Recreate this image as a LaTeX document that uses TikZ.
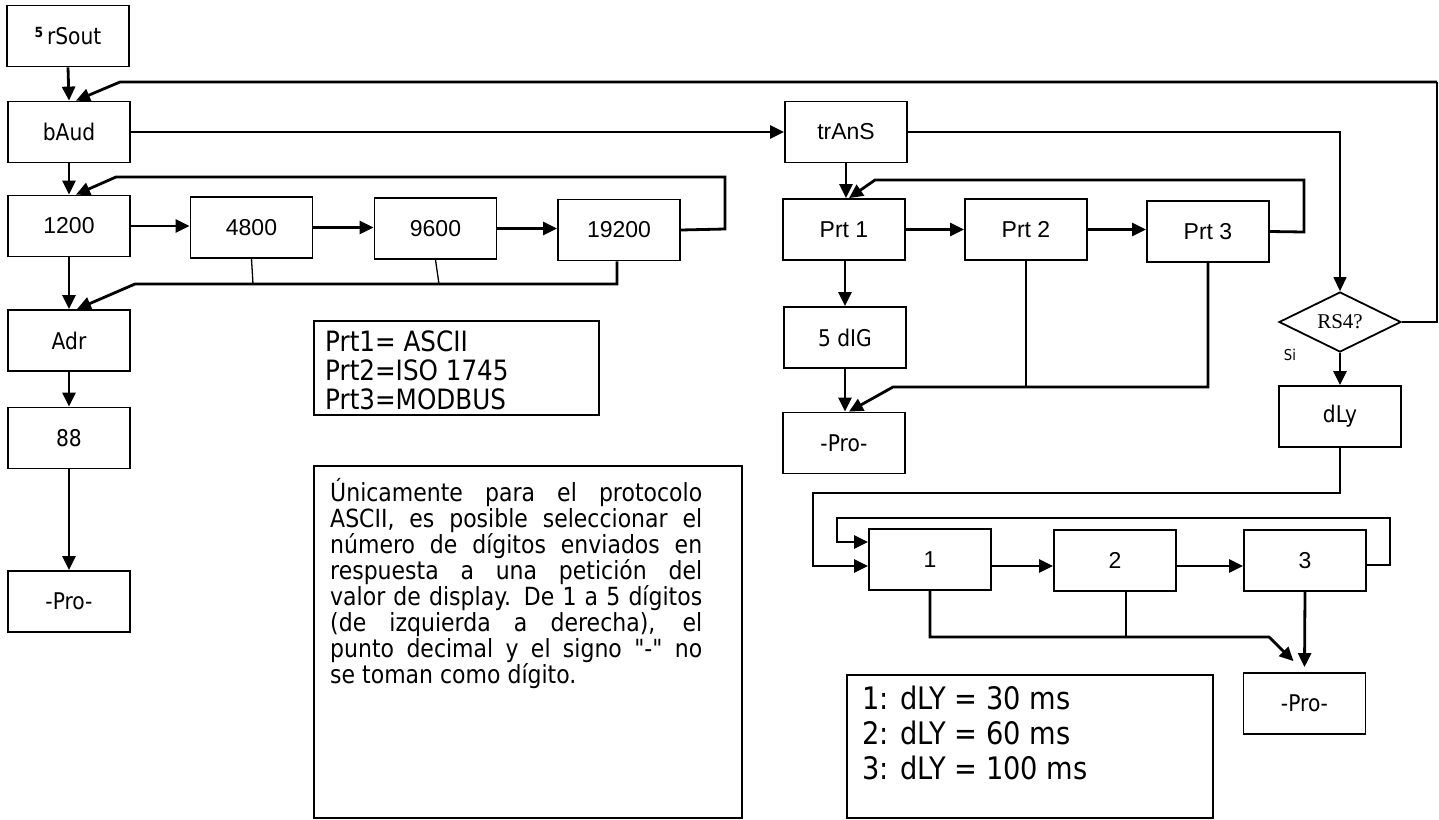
\documentclass[tikz,border=0pt]{standalone}
\usepackage{fontspec}
\setmainfont{DejaVu Sans}[FakeStretch=0.88,Ligatures=TeXOff]
\newfontfamily\arialfont{Liberation Sans}
\newfontfamily\rsfont{Liberation Serif}
\usetikzlibrary{arrows.meta,shapes.geometric}
\begin{document}
\begin{tikzpicture}[x=1pt,y=-1pt,
  box/.style={draw,line width=1.8pt,minimum width=122pt,minimum height=61pt,inner sep=0pt,font=\fontsize{23}{26}\selectfont},
  nbox/.style={box,font=\arialfont\fontsize{23}{26}\selectfont},
  frame/.style={draw,line width=1.8pt,inner sep=0pt},
  thickline/.style={line width=2.8pt},
  thinline/.style={line width=1.3pt},
  arr/.style={-{Triangle[length=14pt,width=13pt]}},
]
\useasboundingbox (0,0) rectangle (1439,819);
% left column
\node[box] (rsout) at (68,36) {{\fontsize{14}{14}\bfseries\raisebox{7pt}{5}}\,rSout};
\node[box] (baud) at (69,132) {bAud};
\node[nbox] (b1200) at (69,226) {1200};
\node[nbox] (b4800) at (251.5,227.5) {4800};
\node[nbox] (b9600) at (435.5,228.5) {9600};
\node[nbox] (b19200) at (619,230) {19200};
\node[box] (adr) at (69,340.5) {Adr};
\node[box] (b88) at (69,438) {88};
\node[box] (proL) at (69,601.5) {-Pro-};
% middle column
\node[nbox] (trans) at (846,132) {trAnS};
\node[nbox] (prt1) at (844,229.5) {Prt 1};
\node[nbox] (prt2) at (1026,229.5) {Prt 2};
\node[nbox] (prt3) at (1208,231.5) {Prt 3};
\node[box] (dig) at (845,337.5) {5 dIG};
\node[box] (proM) at (844,443) {-Pro-};
% right part
\node[draw,diamond,line width=1.8pt,minimum width=122pt,minimum height=60pt,inner sep=0pt,shape aspect=2,font=\rsfont\fontsize{21}{24}\selectfont] (rs4) at (1340,322) {RS4?};
\node[font=\fontsize{15}{16}\selectfont] (si) at (1290,355) {Si};
\node[box] (dly) at (1340,416.5) {dLy};
\node[nbox] (d1) at (930,559.5) {1};
\node[nbox] (d2) at (1115,560.5) {2};
\node[nbox] (d3) at (1305,560.5) {3};
\node[box] (proR) at (1304.5,703.5) {-Pro-};
% frames with text
\node[frame,minimum width=285pt,minimum height=94pt] (protframe) at (456.5,368) {};
\node[anchor=base west,inner sep=0pt,font=\fontsize{28}{29}\selectfont] (prottext) at (325,351)
  {\parbox[t]{265pt}{Prt1= ASCII\\Prt2=ISO 1745\\Prt3=MODBUS}};
\node[frame,minimum width=428pt,minimum height=352pt] (noteframe) at (528,642) {};
\node[anchor=base west,inner sep=0pt,font=\fontsize{25}{26}\selectfont] (notetext) at (330,501)
  {\parbox[t]{372pt}{%
  \makebox[372pt][s]{Únicamente para el protocolo}\\
  \makebox[372pt][s]{ASCII, es posible seleccionar el}\\
  \makebox[372pt][s]{número de dígitos enviados en}\\
  \makebox[372pt][s]{respuesta a una petición del}\\
  \makebox[372pt][s]{valor de display. De 1 a 5 dígitos}\\
  \makebox[372pt][s]{(de izquierda a derecha), el}\\
  \makebox[372pt][s]{punto decimal y el signo "-" no}\\
  se toman como dígito.}};
\node[frame,minimum width=366pt,minimum height=143pt] (dlyframe) at (1030,746.5) {};
\node[anchor=base west,inner sep=0pt,font=\fontsize{31}{35}\selectfont] (dlytext) at (862,709)
  {\parbox[t]{340pt}{1: dLY = 30 ms\\2: dLY = 60 ms\\3: dLY = 100 ms}};
% connectors left
\draw[thickline,arr] (rsout.south) -- (baud.north);
\draw[thinline] (rs4.east) -- (1437,322) -- (1437,82);
\draw[thickline,arr] (1437,82) -- (120,82) -- ([xshift=7pt]baud.north);
\draw[thickline,arr] (baud.east) -- (trans.west);
\draw[thinline,arr] (trans.east) -| (rs4.north);
\draw[thickline,arr] (baud.south) -- (b1200.north);
\draw[thickline,arr] (b19200.east) -- (725,229) -- (725,177) -- (116,177) -- ([xshift=7pt]b1200.north);
\draw[thickline,arr] (b1200.east) -- (b4800.west |- b1200.east);
\draw[thickline,arr] (b4800.east) -- (b9600.west |- b4800.east);
\draw[thickline,arr] (b9600.east) -- (b19200.west |- b9600.east);
\draw[thinline] (b4800.south) -- (253,284);
\draw[thinline] (b9600.south) -- (439,284);
\draw[thickline,arr] ([xshift=-2pt]b19200.south) -- (617,284) -- (135,284) -- ([xshift=8pt]adr.north);
\draw[thickline,arr] (b1200.south) -- (adr.north);
\draw[thickline,arr] (adr.south) -- (b88.north);
\draw[thickline,arr] (b88.south) -- (proL.north);
% middle connectors
\draw[thickline,arr] (trans.south) -- (trans.south |- prt1.north);
\draw[thickline,arr] (prt1.east) -- (prt2.west);
\draw[thickline,arr] (prt2.east) -- (prt2.east -| prt3.west);
\draw[thickline,arr] (prt3.east) -- (1304,232) -- (1304,180) -- (875,180) -- ([xshift=5pt]prt1.north);
\draw[thickline,arr] (prt1.south -| dig.north) -- (dig.north);
\draw[thickline,arr] (dig.south) -- (dig.south |- proM.north);
\draw[line width=1.8pt] (prt2.south) -- (1026,387);
\draw[thickline,arr] (prt3.south) -- (1208,387) -- (893,387) -- ([xshift=5pt]proM.north);
% right connectors
\draw[thickline,arr] (rs4.south) -- (dly.north);
\draw[thickline,arr] (dly.south) -- (1340,493) -- (813,493) -- (813,566) -- (d1.west |- 0,566);
\draw[thickline,arr] (d3.east |- 0,565) -- (1390,565) -- (1390,518) -- (837,518) -- (837,542) -- (d1.west |- 0,542);
\draw[thickline,arr] (d1.east |- 0,566) -- (d2.west |- 0,566);
\draw[thickline,arr] (d2.east |- 0,566) -- (d3.west |- 0,566);
\draw[thickline,arr] (d1.south) -- (930,637) -- (1269,637) -- ([xshift=-11pt,yshift=11pt]proR.north);
\draw[thinline] ([xshift=11pt]d2.south) -- (1126,637);
\draw[thickline,arr] (d3.south) -- ([yshift=5pt]proR.north);
\end{tikzpicture}
\end{document}
